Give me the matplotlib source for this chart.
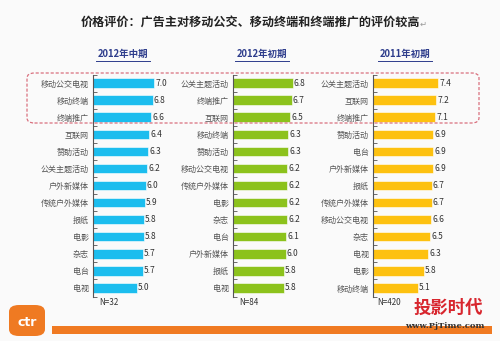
import matplotlib
matplotlib.use('Agg')
import matplotlib.pyplot as plt
from matplotlib.patches import FancyBboxPatch
from matplotlib.lines import Line2D

plt.rcParams['font.family'] = ['Noto Sans CJK SC', 'DejaVu Sans']

title = '价格评价：广告主对移动公交、移动终端和终端推广的评价较高'
periods = ['2012年中期', '2012年初期', '2011年初期']
sample_sizes = ['N=32', 'N=84', 'N=420']

cats_2012_mid = ['移动公交电视', '移动终端', '终端推广', '互联网', '赞助活动', '公关主题活动',
                 '户外新媒体', '传统户外媒体', '报纸', '电影', '杂志', '电台', '电视']
vals_2012_mid = [7.0, 6.8, 6.6, 6.4, 6.3, 6.2, 6.0, 5.9, 5.8, 5.8, 5.7, 5.7, 5.0]

cats_2012_early = ['公关主题活动', '终端推广', '互联网', '移动终端', '赞助活动', '移动公交电视',
                   '传统户外媒体', '电影', '杂志', '电台', '户外新媒体', '报纸', '电视']
vals_2012_early = [6.8, 6.7, 6.5, 6.3, 6.3, 6.2, 6.2, 6.2, 6.2, 6.1, 6.0, 5.8, 5.8]

cats_2011_early = ['公关主题活动', '互联网', '终端推广', '赞助活动', '电台', '户外新媒体',
                   '报纸', '传统户外媒体', '移动公交电视', '杂志', '电视', '电影', '移动终端']
vals_2011_early = [7.4, 7.2, 7.1, 6.9, 6.9, 6.9, 6.7, 6.7, 6.6, 6.5, 6.3, 5.8, 5.1]

panels = [
    (cats_2012_mid, vals_2012_mid, '#1cbdee'),
    (cats_2012_early, vals_2012_early, '#8cc21c'),
    (cats_2011_early, vals_2011_early, '#fdc110'),
]

W, H = 500, 341
fig = plt.figure(figsize=(W / 100, H / 100), dpi=100)
fig.patch.set_facecolor('#fafafa')

def fx(px):
    return px / W

def fy(py):
    return 1 - py / H

# title (with the paragraph mark seen in the source)
fig.text(fx(250), fy(22), title, ha='center', va='center', fontsize=8.7,
         fontweight='bold', color='#222222')
fig.text(fx(420), fy(24), '↵', ha='left', va='center', fontsize=6, color='#999999')

axis_left = [93, 233, 373]
header_x = [123, 262, 405]
ax_bottom, ax_top = 296.5, 74.5

# dashed highlight box around top 3 rows
box = FancyBboxPatch((fx(27), fy(123)), fx(479 - 27), fy(73) - fy(123),
                     boxstyle='round,pad=0,rounding_size=0.015',
                     transform=fig.transFigure, fill=False,
                     edgecolor='#d9707e', linestyle=(0, (2.5, 1.5)), linewidth=0.9,
                     zorder=5)
fig.patches.append(box)

for i, (cats, vals, color) in enumerate(panels):
    ax = fig.add_axes([fx(axis_left[i]), fy(ax_bottom), fx(70), fy(ax_top) - fy(ax_bottom)])
    ax.set_facecolor('none')
    y = list(range(len(cats)))
    ax.barh(y, vals, height=0.55, color=color, edgecolor='white', linewidth=0.4)
    ax.set_xlim(0, 8)
    ax.set_ylim(len(cats) - 0.5, -0.5)
    ax.set_yticks(y)
    ax.set_yticklabels(cats, fontsize=5.8, color='#555555')
    ax.tick_params(axis='y', length=0, pad=3)
    ax.set_yticks([k + 0.5 for k in range(-1, len(cats))], minor=True)
    ax.tick_params(axis='y', which='minor', direction='in', length=3, color='#555555', width=0.6)
    ax.set_xticks([])
    for s in ['top', 'right', 'bottom']:
        ax.spines[s].set_visible(False)
    ax.spines['left'].set_color('#555555')
    ax.spines['left'].set_linewidth(0.8)
    for yy, v in zip(y, vals):
        ax.text(v + 0.15, yy, f'{v:.1f}', va='center', ha='left', fontsize=6, color='#333333')
    ax.text(0.23, -0.005, sample_sizes[i], transform=ax.transAxes, ha='center', va='top',
            fontsize=5.8, color='#333333')
    fig.text(fx(header_x[i]), fy(54), periods[i], ha='center', va='center', fontsize=6.8,
             fontweight='bold', color='#2e3d8c')
    fig.lines.append(Line2D([fx(header_x[i] - 27), fx(header_x[i] + 27)], [fy(60.5), fy(60.5)],
                            transform=fig.transFigure, color='#2e3d8c', linewidth=0.7))

# ctr logo and bottom band
logo = FancyBboxPatch((fx(9), fy(336)), fx(36), fy(305) - fy(336),
                      boxstyle='round,pad=0,rounding_size=0.02', transform=fig.transFigure,
                      facecolor='#ef7a22', edgecolor='none')
fig.patches.append(logo)
fig.text(fx(27), fy(322), 'ctr', ha='center', va='center', fontsize=9, fontweight='bold',
         color='white', family=['DejaVu Sans'])
band = FancyBboxPatch((fx(52), fy(334)), fx(440), fy(326) - fy(334), boxstyle='square,pad=0',
                      transform=fig.transFigure, facecolor='#f07a22', edgecolor='none')
fig.patches.append(band)

# watermark
fig.text(fx(448), fy(308), '投影时代', ha='center', va='center', fontsize=12.5, fontweight='bold',
         color='#d8262e')
fig.text(fx(445), fy(326), 'www.PjTime.com', ha='center', va='center', fontsize=6,
         fontweight='bold', color='#333333', family=['DejaVu Serif'])

fig.savefig('out.png', dpi=100, facecolor=fig.get_facecolor())
